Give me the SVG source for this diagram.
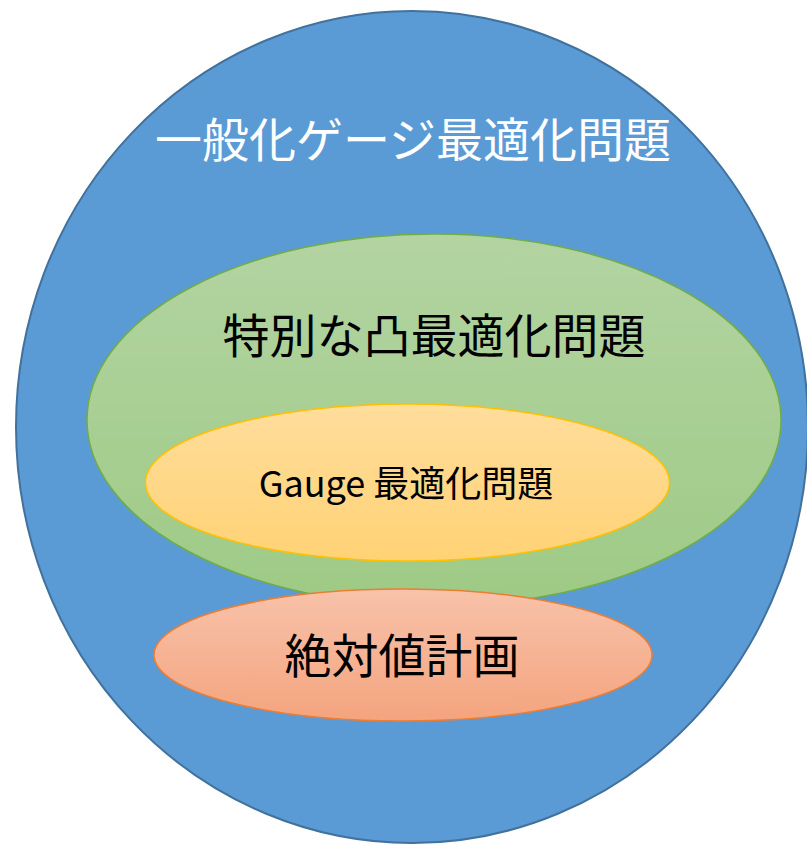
<svg xmlns="http://www.w3.org/2000/svg" width="807" height="844" viewBox="0 0 807 844">
<defs>
<linearGradient id="gGreen" x1="0" y1="0" x2="0" y2="1">
<stop offset="0" stop-color="#B3D4A2"/>
<stop offset="1" stop-color="#9ECA85"/>
</linearGradient>
<linearGradient id="gYellow" x1="0" y1="0" x2="0" y2="1">
<stop offset="0" stop-color="#FFDD9C"/>
<stop offset="1" stop-color="#FFD275"/>
</linearGradient>
<linearGradient id="gSalmon" x1="0" y1="0" x2="0" y2="1">
<stop offset="0" stop-color="#F8C2AA"/>
<stop offset="1" stop-color="#F4A47E"/>
</linearGradient>
</defs>
<style>
text { font-family: "Noto Sans CJK JP", "Noto Sans", sans-serif; text-anchor: middle; }
.big { font-size: 47px; }
</style>
<g id="general">
<ellipse cx="412" cy="427" rx="396" ry="416" fill="#5B9BD5" stroke="#41719C" stroke-width="2"/>
<text class="big" x="413" y="157" fill="#FFFFFF">一般化ゲージ最適化問題</text>
</g>
<g id="convex">
<ellipse cx="434" cy="420" rx="347" ry="186" fill="url(#gGreen)" stroke="#70AD47" stroke-width="1.5"/>
<text class="big" x="434" y="353" fill="#000000">特別な凸最適化問題</text>
</g>
<g id="gauge">
<ellipse cx="407.5" cy="482.5" rx="262" ry="78.5" fill="url(#gYellow)" stroke="#FFC000" stroke-width="1.5"/>
<text x="406" y="497" font-size="36" fill="#000000">Gauge 最適化問題</text>
</g>
<g id="absval">
<ellipse cx="403" cy="655" rx="249" ry="66" fill="url(#gSalmon)" stroke="#ED7D31" stroke-width="1.5"/>
<text class="big" x="402" y="673" fill="#000000">絶対値計画</text>
</g>
<g id="connectors"/>
</svg>
